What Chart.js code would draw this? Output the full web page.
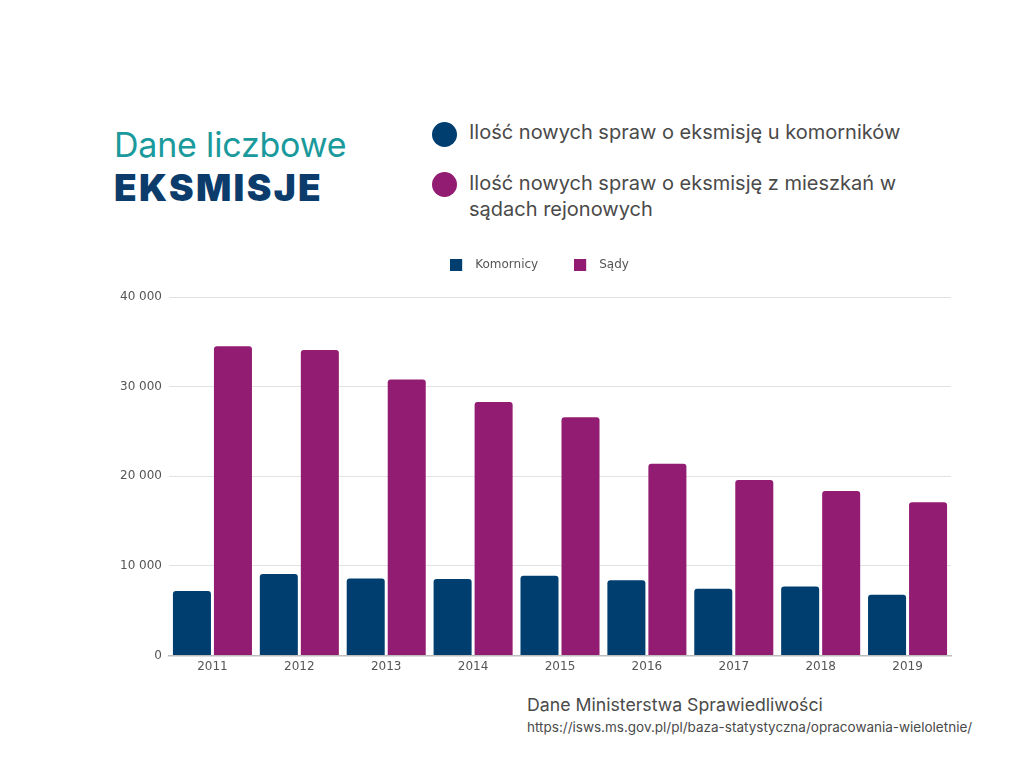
<!DOCTYPE html>
<html>
<head>
<meta charset="utf-8">
<script src="https://cdn.jsdelivr.net/npm/chart.js@4/dist/chart.umd.min.js"></script>
<style>
  html, body { margin:0; padding:0; background:#fff; width:1024px; height:768px; overflow:hidden; font-family: Inter, "Open Sans", sans-serif; }
  .abs { position:absolute; white-space:nowrap; }
  #t1 { left:114px; top:124px; font-size:34px; color:#1a9a9c; font-weight:400; letter-spacing:-0.2px; }
  #t2 { left:114px; top:165px; font-size:37px; color:#0b3c6c; font-weight:900; letter-spacing:2.3px; }
  .dot { position:absolute; width:25px; height:25px; border-radius:50%; }
  .lg { font-size:20px; color:#4a4a4a; line-height:26px; }
  #src1 { left:527px; top:694px; font-size:17.7px; color:#4a4a4a; }
  #src2 { left:527px; top:719px; font-size:13.5px; color:#4a4a4a; }
  #wrap { position:absolute; left:100px; top:223px; width:880px; height:459px; }
</style>
</head>
<body>
<div id="t1" class="abs">Dane liczbowe</div>
<div id="t2" class="abs">EKSMISJE</div>
<div class="dot" style="left:432px; top:122px; background:#013e70;"></div>
<div class="abs lg" style="left:469px; top:119px;">Ilość nowych spraw o eksmisję u komorników</div>
<div class="dot" style="left:432px; top:172px; background:#921c71;"></div>
<div class="abs lg" style="left:469px; top:170px;">Ilość nowych spraw o eksmisję z mieszkań w<br>sądach rejonowych</div>
<div id="src1" class="abs">Dane Ministerstwa Sprawiedliwości</div>
<div id="src2" class="abs">https://isws.ms.gov.pl/pl/baza-statystyczna/opracowania-wieloletnie/</div>
<div id="wrap"><canvas id="c"></canvas></div>
<script>
const years = ["2011","2012","2013","2014","2015","2016","2017","2018","2019"];
const komornicy = [7200, 9100, 8600, 8550, 8900, 8400, 7450, 7700, 6800];
const sady = [34500, 34100, 30800, 28300, 26600, 21400, 19600, 18350, 17100];
const seriesNames = ["Komornicy", "Sądy"];
const yTicks = [0, 10000, 20000, 30000, 40000];
const colors = ['#013e70', '#921c71'];

const fmt = v => String(v).replace(/\B(?=(\d{3})+(?!\d))/g, " ");

function swatch(color) {
  const cv = document.createElement('canvas');
  cv.width = 19; cv.height = 12;
  const g = cv.getContext('2d');
  g.fillStyle = color;
  g.fillRect(0, 0, 12, 12);
  return cv;
}
const swatches = colors.map(swatch);

const legendTweak = {
  id: 'legendTweak',
  afterInit(chart) {
    const lg = chart.legend;
    const orig = lg.fit;
    lg.fit = function () { orig.call(this); this.height += 16; };
  },
  afterLayout(chart) {
    chart.legend.left += 14;
    chart.legend.right += 14;
  }
};

new Chart(document.getElementById('c'), {
  type: 'bar',
  data: {
    labels: years,
    datasets: [
      { label: seriesNames[0], data: komornicy, backgroundColor: colors[0], borderRadius: 3, borderSkipped: 'bottom' },
      { label: seriesNames[1], data: sady, backgroundColor: colors[1], borderRadius: 3, borderSkipped: 'bottom' }
    ]
  },
  plugins: [legendTweak],
  options: {
    responsive: true,
    maintainAspectRatio: false,
    animation: false,
    events: [],
    datasets: { bar: { categoryPercentage: 0.944, barPercentage: 0.927 } },
    layout: { padding: { left: 0, right: 29, top: 0, bottom: 4 } },
    plugins: {
      tooltip: { enabled: false },
      legend: {
        position: 'top',
        labels: {
          usePointStyle: true, pointStyleWidth: 19, boxHeight: 12,
          font: { family: 'DejaVu Sans', size: 12 }, color: '#555', padding: 36,
          generateLabels: (chart) => {
            const items = Chart.defaults.plugins.legend.labels.generateLabels(chart);
            items.forEach((it, i) => { it.pointStyle = swatches[i]; });
            return items;
          }
        }
      }
    },
    scales: {
      x: {
        grid: { display: false, drawTicks: false },
        border: { display: true, color: '#bdbdbd', width: 1.5 },
        ticks: { font: { family: 'DejaVu Sans', size: 12 }, color: '#555', padding: 4 }
      },
      y: {
        min: 0, max: 40000,
        afterFit: s => { s.width = 69; },
        afterBuildTicks: s => { s.ticks = yTicks.map(v => ({ value: v })); },
        grid: { color: '#e2e2e2', drawTicks: false, lineWidth: 1 },
        border: { display: false },
        ticks: { font: { family: 'DejaVu Sans', size: 12 }, color: '#555', padding: 7, callback: v => fmt(v) }
      }
    }
  }
});
</script>
</body>
</html>
